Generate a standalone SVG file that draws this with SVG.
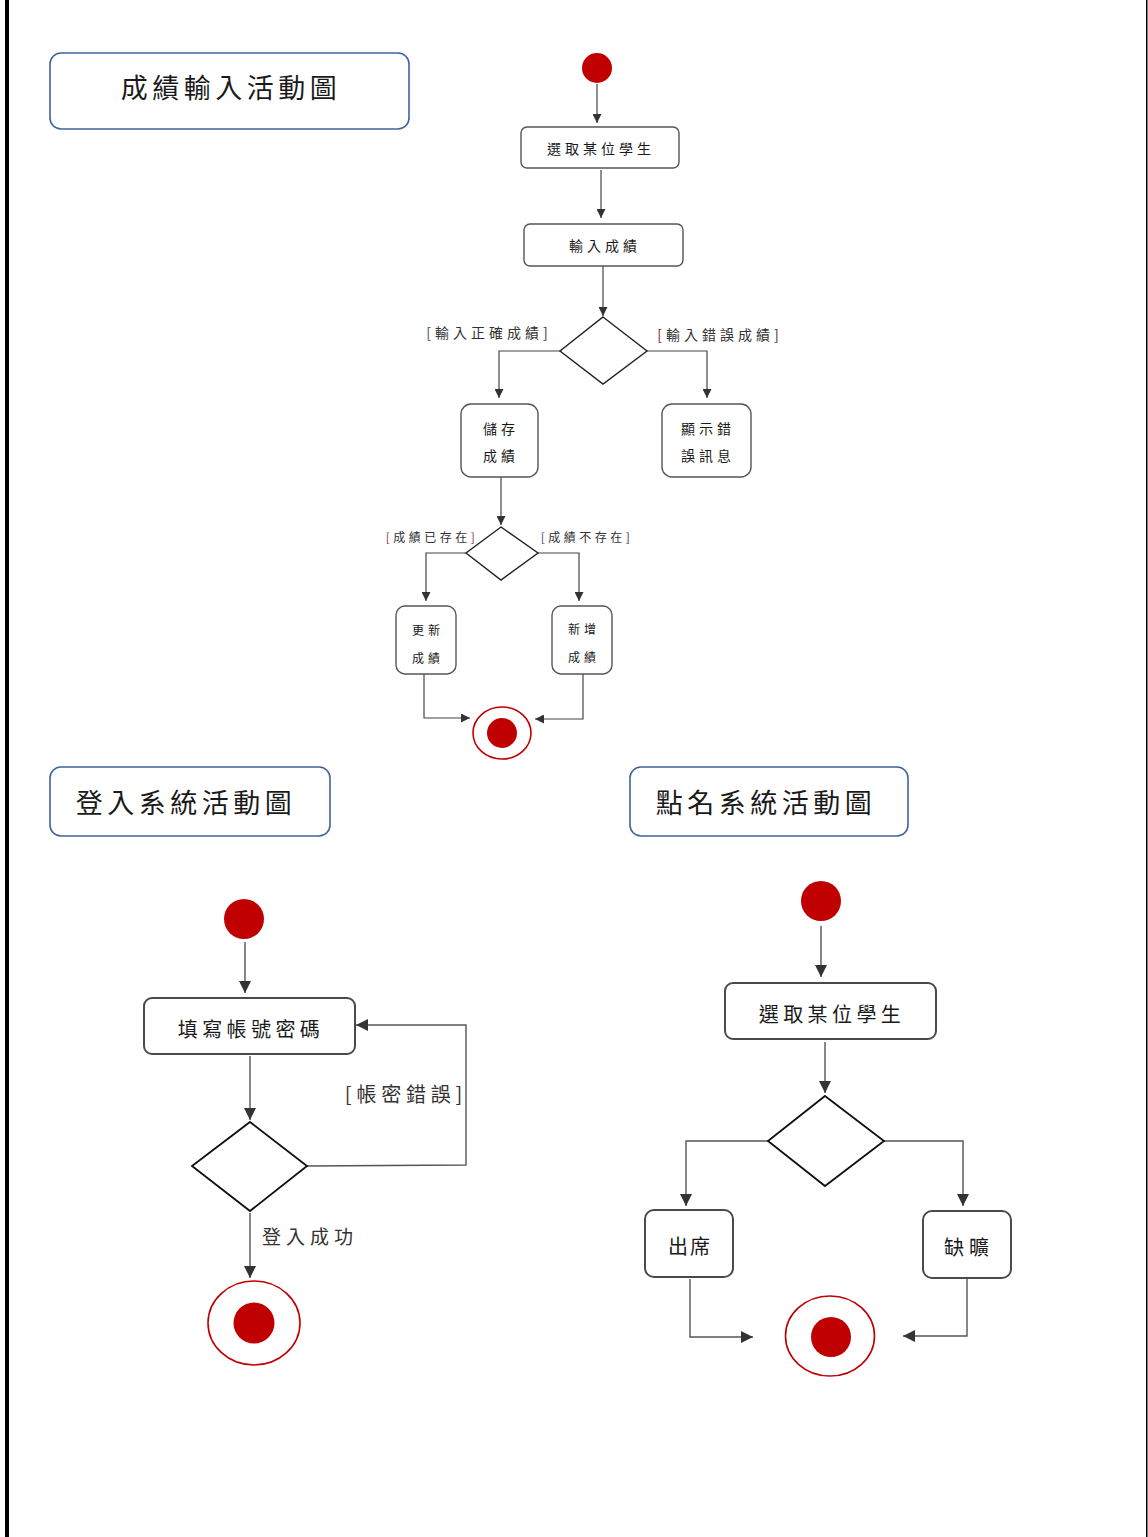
<svg xmlns="http://www.w3.org/2000/svg" width="1148" height="1537" viewBox="0 0 1148 1537">
<defs>
<style>
text{font-family:"Noto Sans CJK TC","Noto Sans CJK SC",sans-serif;fill:#1a1a1a;text-anchor:middle;dominant-baseline:central}
.title{fill:none;stroke:#41639d;stroke-width:1.6}
.tt{font-size:27px;letter-spacing:4.5px}
.box{fill:#fff;stroke:#555;stroke-width:1.4}
.box2{fill:#fff;stroke:#4a4a4a;stroke-width:2}
.dia{fill:#fff;stroke:#222;stroke-width:1.4}
.dia2{fill:#fff;stroke:#111;stroke-width:1.8}
.ln{fill:none;stroke:#444;stroke-width:1.2}
.ln2{fill:none;stroke:#555;stroke-width:1.4}
.s{font-size:14px;letter-spacing:4px}
.xs{font-size:12px;letter-spacing:3.5px}
.m{font-size:20px;letter-spacing:4.4px}
.lbl{fill:#333}
.start{fill:#c00000}
.endo{fill:#fff;stroke:#c00000;stroke-width:1.6}
</style>
<marker id="a1" viewBox="0 0 10 10" refX="10" refY="5" markerWidth="9" markerHeight="9" markerUnits="userSpaceOnUse" orient="auto"><path d="M0,0 L10,5 L0,10 Z" fill="#333"/></marker>
<marker id="a2" viewBox="0 0 10 10" refX="10" refY="5" markerWidth="12" markerHeight="12" markerUnits="userSpaceOnUse" orient="auto"><path d="M0,0 L10,5 L0,10 Z" fill="#333"/></marker>
</defs>
<rect x="0" y="0" width="1148" height="1537" fill="#fff"/>
<rect x="5" y="0" width="4" height="1537" fill="#000"/>
<rect x="1146" y="0" width="1.5" height="1537" fill="#000"/>

<g id="connectors">
<path class="ln" d="M597,84 V123" marker-end="url(#a1)"/>
<path class="ln" d="M601,170 V218" marker-end="url(#a1)"/>
<path class="ln" d="M603,266 V316" marker-end="url(#a1)"/>
<path class="ln" d="M560,351 H499 V398" marker-end="url(#a1)"/>
<path class="ln" d="M647,351 H707 V398" marker-end="url(#a1)"/>
<path class="ln" d="M501,477 V525" marker-end="url(#a1)"/>
<path class="ln" d="M466,553 H426 V601" marker-end="url(#a1)"/>
<path class="ln" d="M538,553 H579 V601" marker-end="url(#a1)"/>
<path class="ln" d="M424,674 V718 H470" marker-end="url(#a1)"/>
<path class="ln" d="M583,674 V719 H535" marker-end="url(#a1)"/>

<path class="ln2" d="M245,942 V993" marker-end="url(#a2)"/>
<path class="ln2" d="M250,1056 V1120" marker-end="url(#a2)"/>
<path class="ln2" d="M307,1166 L466,1165 V1025 H356" marker-end="url(#a2)"/>
<path class="ln2" d="M250,1213 V1278" marker-end="url(#a2)"/>

<path class="ln2" d="M821,926 V977" marker-end="url(#a2)"/>
<path class="ln2" d="M825,1042 V1093" marker-end="url(#a2)"/>
<path class="ln2" d="M768,1141 H686 V1206" marker-end="url(#a2)"/>
<path class="ln2" d="M884,1141 H963 V1206" marker-end="url(#a2)"/>
<path class="ln2" d="M690,1279 V1337 H753" marker-end="url(#a2)"/>
<path class="ln2" d="M967,1279 V1336 H903" marker-end="url(#a2)"/>
</g>

<g id="labels">
<text class="s lbl" x="489" y="332"><tspan fill="#3b4a6b">[</tspan>輸入正確成績]</text>
<text class="s lbl" x="720" y="334"><tspan fill="#7a2323">[</tspan>輸入錯誤成績]</text>
<text class="xs lbl" x="432" y="536"><tspan fill="#8a3030">[</tspan>成績已存在<tspan fill="#8a3030">]</tspan></text>
<text class="xs lbl" x="587" y="536"><tspan fill="#3b4a6b">[</tspan>成績不存在]</text>
<text class="m lbl" x="406" y="1093" style="letter-spacing:4.8px">[帳密錯誤]</text>
<text class="lbl" x="310" y="1235" style="font-size:19px;letter-spacing:5px">登入成功</text>
</g>

<g id="title1"><rect class="title" x="50" y="53" width="359" height="76" rx="11"/><text class="tt" x="231" y="86">成績輸入活動圖</text></g>
<g id="title2"><rect class="title" x="50" y="767" width="280" height="69" rx="11"/><text class="tt" x="186" y="801">登入系統活動圖</text></g>
<g id="title3"><rect class="title" x="630" y="767" width="278" height="69" rx="11"/><text class="tt" x="766" y="801">點名系統活動圖</text></g>

<g id="g-start"><circle class="start" cx="597" cy="68" r="15"/></g>
<g id="g-select"><rect class="box" x="521" y="127" width="158" height="41" rx="6"/><text class="s" x="601" y="148">選取某位學生</text></g>
<g id="g-input"><rect class="box" x="524" y="224" width="159" height="42" rx="6"/><text class="s" x="605" y="245">輸入成績</text></g>
<g id="g-dec1"><polygon class="dia" points="603,317 647,351 603,384 560,351"/></g>
<g id="g-save"><rect class="box" x="461" y="404" width="77" height="73" rx="10"/><text class="s" x="501" y="428">儲存</text><text class="s" x="501" y="455">成績</text></g>
<g id="g-err"><rect class="box" x="662" y="404" width="89" height="73" rx="10"/><text class="s" x="708" y="428">顯示錯</text><text class="s" x="708" y="455">誤訊息</text></g>
<g id="g-dec2"><polygon class="dia" points="501,527 538,553 501,580 466,553"/></g>
<g id="g-update"><rect class="box" x="396" y="606" width="60" height="68" rx="9"/><text class="xs" x="428" y="629" style="letter-spacing:4px">更新</text><text class="xs" x="428" y="657" style="letter-spacing:4px">成績</text></g>
<g id="g-add"><rect class="box" x="552" y="606" width="60" height="68" rx="9"/><text class="xs" x="584" y="628" style="letter-spacing:4px">新增</text><text class="xs" x="584" y="656" style="letter-spacing:4px">成績</text></g>
<g id="g-end"><ellipse class="endo" cx="502" cy="733" rx="29" ry="26"/><circle class="start" cx="502" cy="733" r="15"/></g>

<g id="l-start"><circle class="start" cx="244" cy="919" r="20"/></g>
<g id="l-fill"><rect class="box2" x="144" y="998" width="211" height="56" rx="8"/><text class="m" x="251" y="1028">填寫帳號密碼</text></g>
<g id="l-dec"><polygon class="dia2" points="250,1122 307,1166 250,1211 192,1166"/></g>
<g id="l-end"><ellipse class="endo" cx="254" cy="1323" rx="46" ry="42"/><circle class="start" cx="254" cy="1323" r="20.5"/></g>

<g id="r-start"><circle class="start" cx="821" cy="901" r="20"/></g>
<g id="r-select"><rect class="box2" x="725" y="983" width="211" height="56" rx="8"/><text class="m" x="832" y="1013">選取某位學生</text></g>
<g id="r-dec"><polygon class="dia2" points="825,1096 884,1141 825,1186 768,1141"/></g>
<g id="r-present"><rect class="box2" x="645" y="1210" width="88" height="67" rx="9"/><text class="m" x="690" y="1245" style="letter-spacing:2px">出席</text></g>
<g id="r-absent"><rect class="box2" x="923" y="1211" width="88" height="67" rx="9"/><text class="m" x="969" y="1246" style="letter-spacing:5px">缺曠</text></g>
<g id="r-end"><ellipse class="endo" cx="830" cy="1336" rx="44.5" ry="40"/><circle class="start" cx="831" cy="1337" r="20"/></g>
</svg>
